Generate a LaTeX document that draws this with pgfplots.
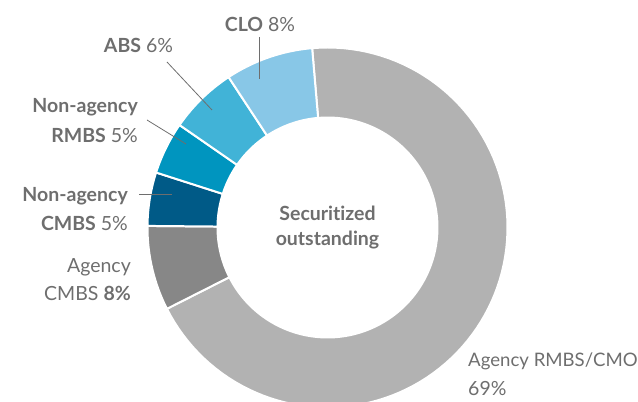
\documentclass[border=0pt]{standalone}
\usepackage{pgfplots}
\pgfplotsset{compat=1.18}
\usepackage{fontspec}
\setmainfont{Lato}[Ligatures={NoCommon}]
\definecolor{txt}{HTML}{6E6E6E}
\definecolor{aRMBS}{HTML}{B2B2B2}
\definecolor{aCMBS}{HTML}{878787}
\definecolor{naCMBS}{HTML}{005A87}
\definecolor{naRMBS}{HTML}{0095BF}
\definecolor{cABS}{HTML}{41B3D7}
\definecolor{cCLO}{HTML}{88C7E7}
% ring geometry (axis units = pixels)
\def\cx{327.5}\def\cy{174.5}\def\Ro{180}\def\Ri{110}
\gdef\cum{94.9}
\newcommand\slice[2]{%
  \pgfmathsetmacro\angA{\cum}%
  \pgfmathsetmacro\angB{\cum-3.6*#1}%
  \edef\doslice{\noexpand\addplot[fill=#2,draw=white,line width=2pt,domain=0:3,samples=301]
   ({\cx+(\Ro-(\Ro-\Ri)*min(max(x-1,0),1))*cos(\angA+(\angB-\angA)*(min(x,1)-max(x-2,0)))},
    {\cy+(\Ro-(\Ro-\Ri)*min(max(x-1,0),1))*sin(\angA+(\angB-\angA)*(min(x,1)-max(x-2,0)))}) -- cycle;}%
  \doslice
  \xdef\cum{\angB}}
\begin{document}
\begin{tikzpicture}
\begin{axis}[width=638bp,height=402bp,scale only axis,
  xmin=0,xmax=638,ymin=0,ymax=402,hide axis,clip=true]
\coordinate (bbsw) at (axis cs:0,0);
\coordinate (bbne) at (axis cs:638,402);
% shares of the circle (percent), clockwise from the top
\slice{68.9}{aRMBS}
\slice{7.6}{aCMBS}
\slice{4.8}{naCMBS}
\slice{4.7}{naRMBS}
\slice{6.1}{cABS}
\slice{7.9}{cCLO}
% leader lines
\addplot[txt,line width=0.8pt] coordinates {(259,365) (259,323)};
\addplot[txt,line width=0.8pt] coordinates {(167,340) (212,292)};
\addplot[txt,line width=0.8pt] coordinates {(147,282) (186,258)};
\addplot[txt,line width=0.8pt] coordinates {(139,208) (172,208)};
% labels
\begin{scope}[every node/.style={inner sep=0pt,text=txt,font=\fontsize{19.5bp}{24bp}\selectfont}]
\node[anchor=base] at (axis cs:260,370.3) {\textbf{CLO} 8\%};
\node[anchor=base] at (axis cs:138.5,349.3) {\textbf{ABS} 6\%};
\node[anchor=base east] at (axis cs:138,289.3) {\textbf{Non-agency}};
\node[anchor=base east] at (axis cs:138,259.7) {\textbf{RMBS} 5\%};
\node[anchor=base east] at (axis cs:128,200.3) {\textbf{Non-agency}};
\node[anchor=base east] at (axis cs:128,171.3) {\textbf{CMBS} 5\%};
\node[anchor=base east] at (axis cs:131,129.3) {Agency};
\node[anchor=base east] at (axis cs:131,101) {CMBS \textbf{8\%}};
\node[anchor=base west,font=\fontsize{18.6bp}{24bp}\selectfont] at (axis cs:468,35.3) {Agency RMBS/CMO};
\node[anchor=base west] at (axis cs:468,7) {69\%};
\node[anchor=base] at (axis cs:327.5,181.3) {\textbf{Securitized}};
\node[anchor=base] at (axis cs:327.5,156) {\textbf{outstanding}};
\end{scope}
\end{axis}
\pgfresetboundingbox
\path[use as bounding box] (bbsw) rectangle (bbne);
\end{tikzpicture}
\end{document}
